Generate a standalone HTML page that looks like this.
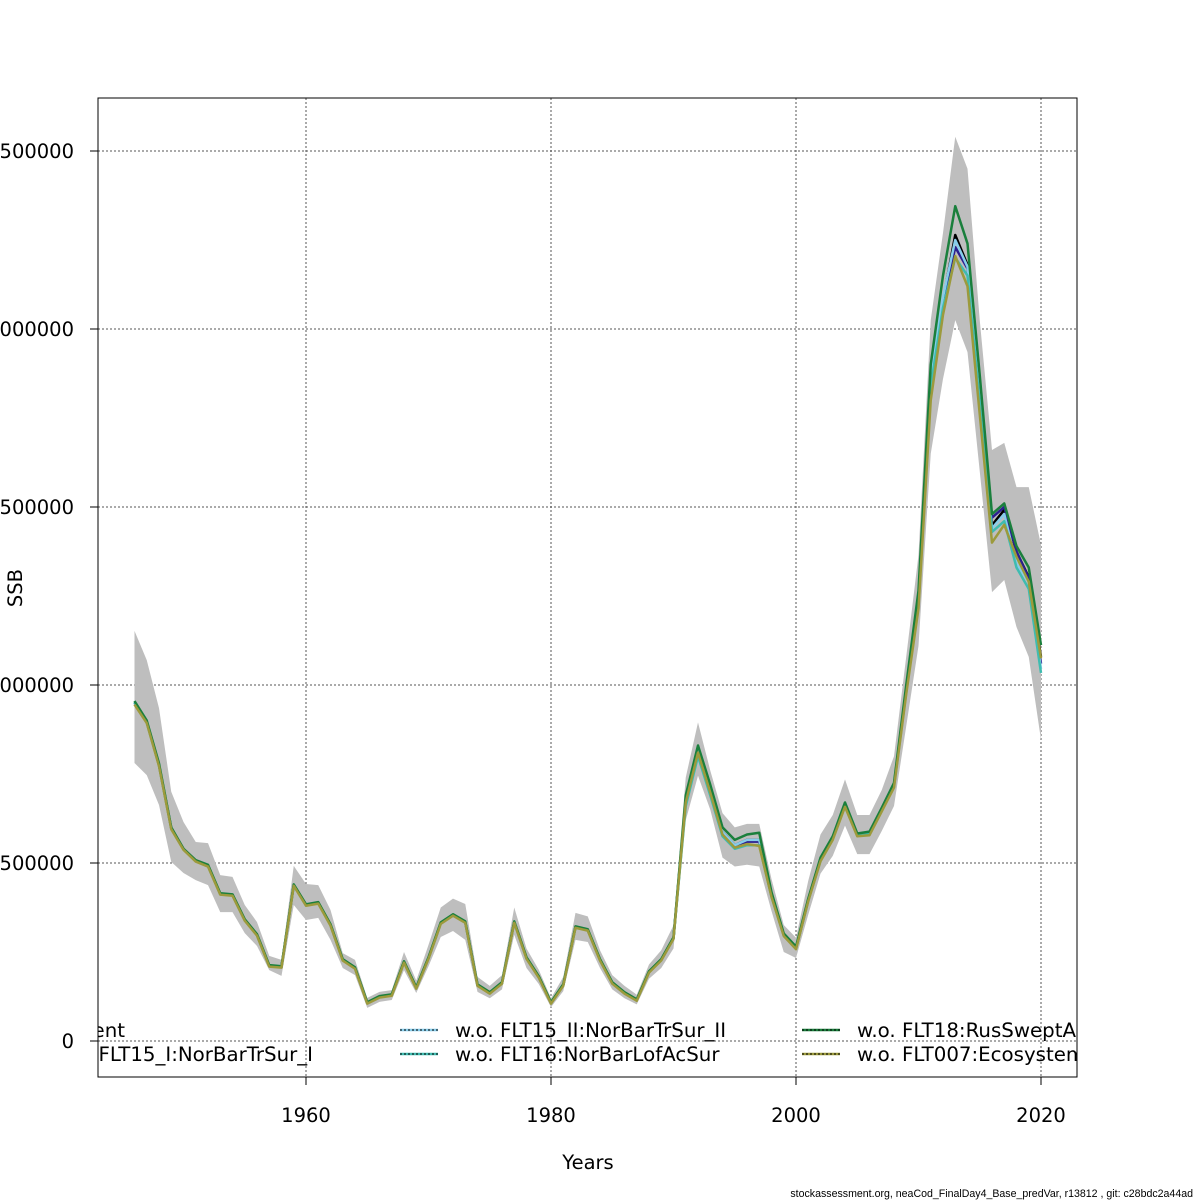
<!DOCTYPE html>
<html><head><meta charset="utf-8"><style>
body{margin:0;background:#fff}
svg{display:block;font-family:"DejaVu Sans","Liberation Sans",sans-serif}
</style></head><body>
<svg id="chart" width="1200" height="1200" viewBox="0 0 1200 1200">
<defs><clipPath id="pc"><rect x="98" y="98" width="979" height="979"/></clipPath></defs>
<g id="grid"></g>
<g id="band" clip-path="url(#pc)"></g>
<g id="lines" clip-path="url(#pc)"></g>
<g id="axes"></g>
<g id="legend" clip-path="url(#pc)"></g>
<text x="588" y="1169" font-size="19.5" text-anchor="middle">Years</text>
<text x="22" y="588" font-size="19.5" text-anchor="middle" transform="rotate(-90 22 588)">SSB</text>
<text x="1193" y="1197" font-size="10.6" text-anchor="end" font-family="Liberation Sans, sans-serif">stockassessment.org, neaCod_FinalDay4_Base_predVar, r13812 , git: c28bdc2a44ad</text>
</svg>
<script>
const years=[];for(let y=1946;y<=2020;y++)years.push(y);
const base=[950,896,775,598,539,506,492,413,410,340,298,211,208,438,382,388,326,228,205,107,124,129,222,149,233,331,354,334,157,135,163,334,233,180,107,157,320,312,228,163,135,115,194,228,289,677,817,705,587,550,565,565,410,298,261,396,508,570,663,579,584,649,719,986,1239,1857,2081,2264,2180,1801,1449,1492,1374,1303,1079];
const upper=[1152,1070,935,700,615,559,556,466,461,382,334,239,228,492,441,438,368,247,228,121,138,143,250,170,270,375,400,385,180,155,185,375,260,200,120,180,360,350,255,185,155,130,215,255,325,740,895,760,640,600,610,610,455,326,290,450,580,635,735,635,635,705,800,1080,1365,2025,2270,2540,2450,2025,1660,1680,1556,1556,1393];
const lower=[781,747,663,503,472,452,438,362,362,303,267,199,183,382,340,346,284,205,185,93,110,115,199,135,210,292,309,284,138,120,145,298,205,160,95,140,284,278,205,145,120,103,175,205,260,620,745,650,515,490,495,490,365,250,233,355,470,520,605,525,525,590,660,885,1110,1650,1860,2025,1935,1600,1261,1295,1163,1079,846];
const green=[955,900,780,600,540,508,495,415,412,342,300,213,210,440,384,390,328,230,207,109,126,131,224,151,235,333,356,336,159,137,165,336,235,182,109,159,322,314,230,165,137,117,196,230,291,690,830,720,600,565,580,585,418,302,265,400,515,575,670,583,588,655,725,1000,1265,1900,2150,2345,2240,1870,1480,1510,1390,1330,1112];
const olive=[945,893,772,595,537,504,490,411,408,338,296,209,206,436,380,386,324,226,203,105,122,127,220,147,231,329,352,332,155,133,161,332,231,178,105,155,318,310,226,161,133,113,192,226,287,670,810,698,580,543,553,548,405,295,258,393,505,565,658,575,578,645,712,975,1215,1800,2040,2205,2120,1760,1400,1450,1360,1290,1075];
const cyan=[952,894,774,597,538,505,491,412,409,339,297,210,207,437,381,387,325,227,204,106,123,128,221,148,232,330,353,333,156,134,162,333,232,179,106,156,319,311,227,162,134,114,193,227,288,660,800,690,575,540,550,550,405,296,259,394,506,568,660,577,582,647,716,980,1230,1840,2060,2200,2150,1790,1430,1460,1330,1270,1034];
const navy=[950,896,775,598,539,506,492,413,410,340,298,211,208,438,382,388,326,228,205,107,124,129,222,149,233,331,354,334,157,135,163,334,233,180,107,157,320,312,228,163,135,115,194,228,289,677,817,705,587,550,560,560,410,298,261,396,508,570,663,579,584,649,719,986,1230,1845,2070,2230,2170,1800,1470,1500,1375,1300,1060];
const lightblue=[950,896,775,598,539,506,492,413,410,340,298,211,208,438,382,388,326,228,205,107,124,129,222,149,233,331,354,334,157,135,163,334,233,180,107,157,320,312,228,163,135,115,194,228,289,677,817,705,587,550,565,565,410,298,261,396,508,570,663,579,584,649,719,986,1239,1865,2090,2250,2175,1800,1440,1480,1340,1290,1045];
const xTicks=[1960,1980,2000,2020];
const yTicks=[0,500000,1000000,1500000,2000000,2500000];
const X=y=>306+(y-1960)*12.25;
const Y=v=>1041-v/500000*178;
const NS="http://www.w3.org/2000/svg";
function mk(p,t,a){const e=document.createElementNS(NS,t);for(const k in a)e.setAttribute(k,a[k]);p.appendChild(e);return e;}
const grid=document.getElementById('grid'),axes=document.getElementById('axes');
xTicks.forEach(t=>{
 const l=mk(grid,'line',{x1:X(t),x2:X(t),y1:98,y2:1077,stroke:'#555','stroke-width':1,'stroke-dasharray':'2,2'});
 
 
 const tk=mk(axes,'line',{x1:X(t),x2:X(t),y1:1077,y2:1085,stroke:'#000'});
 
 
 const tx=mk(axes,'text',{x:X(t),y:1122,'font-size':19.5,'text-anchor':'middle'});tx.textContent=t;
 
 
});
yTicks.forEach(t=>{
 const l=mk(grid,'line',{x1:98,x2:1077,y1:Y(t),y2:Y(t),stroke:'#555','stroke-width':1,'stroke-dasharray':'2,2'});
 
 
 const tk=mk(axes,'line',{x1:90,x2:98,y1:Y(t),y2:Y(t),stroke:'#000'});
 
 
 const tx=mk(axes,'text',{x:74,y:Y(t)+7,'font-size':19.5,'text-anchor':'end'});tx.textContent=t;
 
 
});
const frame=mk(axes,'rect',{x:98,y:98,width:979,height:979,fill:'none',stroke:'#000','stroke-width':1});


const band=document.getElementById('band');
let d=years.map((y,i)=>(i?'L':'M')+X(y)+','+Y(upper[i]*1000)).join('');
for(let i=years.length-1;i>=0;i--)d+='L'+X(years[i])+','+Y(lower[i]*1000);
const bp=mk(band,'path',{d:d+'Z',fill:'#bebebe'});


const lines=document.getElementById('lines');
const series=[[base,'#000','line-current'],[navy,'#2b1f8f','line-flt15-i'],[lightblue,'#87cdea','line-flt15-ii'],[cyan,'#3fbcb0','line-flt16'],[green,'#1a7f3c','line-flt18'],[olive,'#9c9a3c','line-flt007']];
series.forEach(s=>{
 const p=mk(lines,'path',{d:years.map((y,i)=>(i?'L':'M')+X(y)+','+Y(s[0][i]*1000)).join(''),fill:'none',stroke:s[1],'stroke-width':2.5,'stroke-linejoin':'round'});
 
 
});
const lg=document.getElementById('legend');
const entries=[[60,1030,'Current','#000',125],[60,1054,'w.o. FLT15_I:NorBarTrSur_I','#2b1f8f',313],[400,1030,'w.o. FLT15_II:NorBarTrSur_II','#87cdea',null],[400,1054,'w.o. FLT16:NorBarLofAcSur','#3fbcb0',null],[802,1030,'w.o. FLT18:RusSweptArea','#1a7f3c',null],[802,1054,'w.o. FLT007:Ecosystem','#9c9a3c',null]];
entries.forEach(e=>{
 const g=mk(lg,'g',{});
 
 
 if(e[4]===null){
  mk(g,'line',{x1:e[0],x2:e[0]+38,y1:e[1],y2:e[1],stroke:e[3],'stroke-width':2.5});
  mk(g,'line',{x1:e[0],x2:e[0]+38,y1:e[1],y2:e[1],stroke:'#000','stroke-width':1,'stroke-dasharray':'2,2'});
  const t=mk(g,'text',{x:e[0]+55,y:e[1]+7,'font-size':19.8});t.textContent=e[2];
 }else{
  const t=mk(g,'text',{x:e[4],y:e[1]+7,'font-size':19.8,'text-anchor':'end'});t.textContent=e[2];
 }
});
</script>
</body></html>
